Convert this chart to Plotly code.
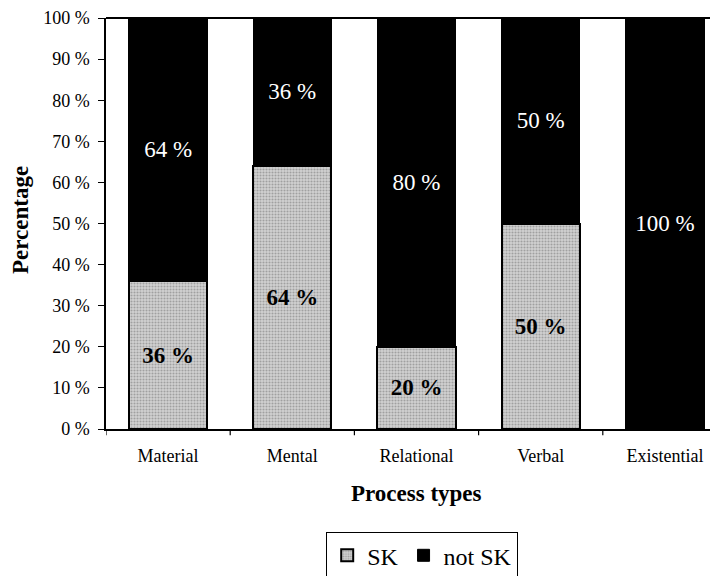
import plotly.graph_objects as go

categories = ["Material", "Mental", "Relational", "Verbal", "Existential"]
sk = [36, 64, 20, 50, 0]
not_sk = [64, 36, 80, 50, 100]
y_ticks = [0, 10, 20, 30, 40, 50, 60, 70, 80, 90, 100]
y_tick_labels = [f"{v} %" for v in y_ticks]

FONT = "Liberation Serif, Times New Roman, serif"

sk_text = [f"{v} %" if v > 0 else "" for v in sk]
nsk_text = [f"{v} %" if v > 0 else "" for v in not_sk]

OFF = 8  # browser body margin
FW, FH = 718 - OFF, 576 - OFF
L, T, W, H = 106, 18, 612, 411  # plot area in screen pixels


def px(xs):
    return (xs - L) / W


def py(ys):
    return (T + H - ys) / H


fig = go.Figure()
fig.add_trace(go.Bar(
    x=categories, y=sk, name="SK", width=0.63,
    marker=dict(color="#c0c0c0", line=dict(color="black", width=2),
                pattern=dict(shape=".", fgcolor="#6e6e6e", bgcolor="#d2d2d2",
                             size=3, solidity=0.4)),
    text=sk_text, textposition="inside", insidetextanchor="middle",
    textfont=dict(family=FONT, size=23, color="black", weight="bold"),
    textangle=0,
))
fig.add_trace(go.Bar(
    x=categories, y=not_sk, name="not SK", width=0.63,
    marker=dict(color="black", line=dict(color="black", width=1)),
    text=nsk_text, textposition="inside", insidetextanchor="middle",
    textfont=dict(family=FONT, size=23, color="white"),
    textangle=0,
))

fig.update_layout(
    barmode="stack",
    width=FW, height=FH,
    paper_bgcolor="white", plot_bgcolor="white",
    margin=dict(l=L - OFF, r=0, t=T - OFF, b=FH - (T - OFF) - H),
    font=dict(family=FONT, size=18, color="black"),
    showlegend=True,
    legend=dict(orientation="h", x=(422 - OFF) / FW, xref="container", xanchor="center",
                y=1 - (532 - OFF) / FH, yref="container", yanchor="top",
                bordercolor="black", borderwidth=1.2, font=dict(size=24),
                itemwidth=30, traceorder="normal"),
    xaxis=dict(
        range=[-0.5, -0.5 + W / 124.2], showline=True, linecolor="black", linewidth=1.5,
        ticks="", tickfont=dict(size=18), showgrid=False, automargin=False,
        ticklabelstandoff=10,
    ),
    yaxis=dict(
        range=[0, 100], tickvals=y_ticks, ticktext=y_tick_labels,
        showline=True, linecolor="black", linewidth=1.5, ticks="outside",
        ticklen=6, tickwidth=1.2, tickcolor="black", showgrid=False,
        tickfont=dict(size=18), automargin=False, ticklabelstandoff=5,
        ticklabeloverflow="allow",
    ),
    annotations=[
        dict(text="<b>Percentage</b>", xref="paper", yref="paper",
             x=px(21), xanchor="center", y=py(220), yanchor="middle",
             textangle=-90, showarrow=False, font=dict(size=23)),
        dict(text="<b>Process types</b>", xref="paper", yref="paper",
             x=px(416), xanchor="center", y=py(494), yanchor="middle",
             showarrow=False, font=dict(size=23)),
    ],
)

# category boundary tick marks on the x axis
for i in range(-1, len(categories)):
    fig.add_shape(type="line", xref="x", yref="paper", x0=i + 0.5, x1=i + 0.5,
                  y0=-0.015, y1=0.0, line=dict(color="black", width=1.2))
# top border line
fig.add_shape(type="line", xref="paper", yref="paper", x0=0, x1=1, y0=1, y1=1,
              line=dict(color="black", width=2), layer="above")

fig.write_html("out.html")
